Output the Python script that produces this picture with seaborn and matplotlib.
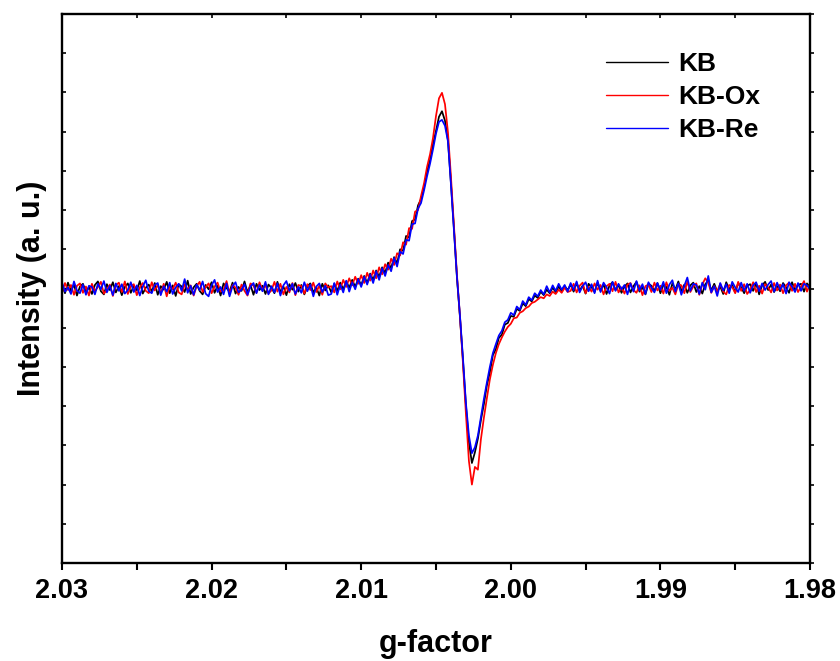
import numpy as np
import pandas as pd
import matplotlib
matplotlib.use("Agg")
import matplotlib.pyplot as plt
from matplotlib.ticker import MultipleLocator, FormatStrFormatter, NullFormatter
import seaborn as sns

# g-factor range of the sweep (uniform sampling, 251 points)
g_start, g_end = 2.03, 1.98

# Intensities (a.u.)
kb = [
    8, -12, 15, -6, 10, -18, 5, 12, -9, 3,
    -14, 9, 18, -7, -15, 11, -4, 16, -10, 6,
    -17, 4, 13, -11, 7, -5, 19, -13, 2, 10,
    -8, 14, -16, 6, -3, 17, -12, 8, -19, 11,
    5, -9, 20, -14, 3, 12, -6, -15, 9, -2,
    16, -11, 7, -18, 13, 1, -8, 15, -13, 4,
    -6, 18, -10, 9, -16, 12, -4, 7, -14, 10,
    2, -12, 17, -9, 5, -17, 11, -3, 14, -8,
    9, -15, 6, 13, -10, 3, -18, 12, -5, 8,
    -10, 12, -6, 15, -2, 18, 2, 22, 4, 25,
    8, 32, 14, 38, 22, 46, 30, 54, 40, 66,
    52, 80, 64, 100, 96, 134, 130, 172, 176, 212,
    228, 258, 298, 327, 368, 402, 438, 452, 428, 378,
    268, 152, 28, -72, -182, -298, -392, -445, -418, -383,
    -336, -295, -247, -214, -170, -155, -126, -118, -92, -88,
    -70, -72, -52, -57, -38, -45, -27, -33, -18, -24,
    -8, -17, -3, -12, 2, -9, 5, -7, 6, -4,
    10, -8, 14, -5, 7, -13, 12, 3, -9, 15,
    -6, 11, -14, 8, 16, -4, 9, -11, 5, 13,
    -10, 6, 17, -8, 3, -15, 12, 7, -6, 14,
    -12, 9, 4, -16, 13, -3, 18, -7, 10, -11,
    8, 15, -9, 6, -13, 11, 20, -5, 12, -8,
    5, -14, 16, -2, 9, -10, 14, 3, -12, 7,
    11, -6, 13, -15, 8, 17, -4, 10, -9, 6,
    -7, 14, 3, -11, 16, -5, 9, 12, -8, 13,
    4,
]

kb_ox = [
    -10, 14, -4, 9, -16, 7, 13, -11, 5, -18,
    12, -7, 4, 17, -13, -3, 10, -19, 8, 15,
    -9, 18, -14, 6, 11, -17, 3, 14, -6, -12,
    16, -5, 9, -13, 12, -20, 7, -2, 15, -10,
    -15, 11, -3, 8, -18, 6, 17, -9, 4, 13,
    -12, 5, 15, -8, -4, 19, -14, 9, 2, -16,
    10, -6, -18, 13, 7, -11, 16, -3, 8, -13,
    -5, 17, -8, 12, -15, 4, -10, 14, -17, 9,
    6, -13, 11, -4, 15, -9, 7, -16, 13, 3,
    6, -10, 18, -2, 22, 4, 26, 8, 30, 12,
    34, 14, 40, 20, 46, 26, 54, 36, 62, 48,
    76, 60, 90, 84, 118, 112, 154, 152, 196, 200,
    236, 268, 310, 342, 384, 440, 485, 499, 470, 398,
    285, 160, 35, -70, -190, -320, -440, -500, -455, -462,
    -385, -330, -280, -232, -195, -165, -142, -125, -110, -98,
    -90, -76, -74, -62, -58, -50, -46, -37, -34, -28,
    -22, -25, -15, -19, -8, -14, -3, -11, 2, -9,
    -6, 12, -10, 7, 15, -12, 4, -8, 13, -3,
    9, -15, 6, 12, -7, 17, -10, 3, -13, 10,
    14, -4, -11, 8, -17, 6, 10, -9, 15, -5,
    7, -13, 16, -6, 2, -15, 11, 8, -12, 18,
    -9, 5, 13, -16, 10, 26, 15, -11, 6, -7,
    12, -8, -15, 9, 4, -12, 17, -6, 11, -14,
    -3, 16, -9, 7, -13, 11, 3, -10, 14, -5,
    10, -12, 8, 15, -6, 12, -9, 5, 19, -8,
    12,
]

kb_re = [
    15, -8, 3, -14, 18, -5, -12, 10, -16, 7,
    4, -15, 12, -2, 19, -10, 7, -17, 13, -6,
    11, -13, -4, 16, -9, 8, -18, 5, 21, -7,
    -12, 9, 14, -17, 6, -8, 15, -14, 3, 12,
    -6, 24, -11, 7, -16, 10, -4, 18, -13, -20,
    8, 22, -9, 4, -15, 13, -20, 6, 16, -10,
    -3, 11, -16, 5, 14, -12, 9, -7, 17, -15,
    6, -10, 13, -18, 8, 19, -6, 12, -14, 4,
    -11, 16, -7, 10, -20, 5, 13, -9, 7, -17,
    -14, 14, -16, 10, -10, 20, -8, 16, -2, 24,
    4, 30, 10, 36, 14, 44, 22, 52, 32, 60,
    44, 78, 56, 94, 88, 124, 122, 164, 166, 204,
    218, 250, 286, 318, 355, 395, 425, 430, 415, 375,
    265, 148, 30, -68, -176, -292, -375, -420, -405, -375,
    -328, -282, -240, -200, -165, -142, -120, -108, -86, -80,
    -62, -68, -46, -54, -32, -42, -22, -30, -12, -20,
    -4, -15, 6, -10, 8, -6, 12, -3, 9, -8,
    14, -4, 18, -10, 6, 16, -7, 11, -12, 20,
    -9, 15, 3, -13, 17, -6, 12, -2, 9, -15,
    13, -8, 19, -5, 11, -14, 16, 2, -10, 14,
    -4, 17, -12, 10, 21, -8, 13, -16, 7, 28,
    -6, 12, 9, -14, 15, -3, 32, -10, 6, -19,
    14, -5, 11, -12, 17, 3, -9, 15, -6, 12,
    -11, 8, 16, -7, 13, -4, 10, 19, -8, 15,
    -3, 11, -13, 16, 5, -9, 14, -6, 12, 8,
    -2,
]

series_names = ["KB", "KB-Ox", "KB-Re"]
series_values = [kb, kb_ox, kb_re]
series_colors = ["#000000", "#ff0000", "#0000ff"]
x_tick_labels = ["2.03", "2.02", "2.01", "2.00", "1.99", "1.98"]

frames = []
for name, vals in zip(series_names, series_values):
    g = np.linspace(g_start, g_end, len(vals))
    frames.append(pd.DataFrame({"g": g, "I": vals, "sample": name}))
df = pd.concat(frames, ignore_index=True)

sns.set_theme(style="white")
plt.rcParams["font.family"] = ["Liberation Sans", "DejaVu Sans"]
plt.rcParams["font.weight"] = "bold"
plt.rcParams["text.color"] = "black"
plt.rcParams["axes.labelcolor"] = "black"
plt.rcParams["xtick.color"] = "black"
plt.rcParams["ytick.color"] = "black"

fig = plt.figure(figsize=(8.4, 6.61), dpi=100)
ax = fig.add_axes([62 / 840, 1 - 563 / 661, (810 - 62) / 840, (563 - 14) / 661])

sns.lineplot(data=df, x="g", y="I", hue="sample", hue_order=series_names,
             palette=dict(zip(series_names, series_colors)), estimator=None,
             sort=False, linewidth=1.25, ax=ax, legend=True)

ax.set_xlim(g_start, g_end)
ax.set_ylim(-700, 700)

ax.xaxis.set_major_locator(MultipleLocator(0.01))
ax.xaxis.set_minor_locator(MultipleLocator(0.005))
ax.xaxis.set_major_formatter(FormatStrFormatter("%.2f"))
ax.yaxis.set_major_locator(MultipleLocator(100))
ax.yaxis.set_major_formatter(NullFormatter())

ax.tick_params(axis="x", which="both", direction="out", length=5, width=1.5,
               bottom=True, top=False, labelsize=19.5, pad=6, colors="black")
ax.tick_params(axis="y", which="both", direction="in", length=3, width=1.2,
               left=True, right=False, labelleft=False, colors="black")
for lab in ax.get_xticklabels():
    lab.set_fontweight("bold")

# top ticks (inward) and right ticks (outward)
sec_top = ax.secondary_xaxis("top")
sec_top.xaxis.set_major_locator(MultipleLocator(0.005))
sec_top.tick_params(direction="in", length=3, width=1.2, labeltop=False, colors="black")
sec_top.spines["top"].set_visible(False)
sec_right = ax.secondary_yaxis("right")
sec_right.yaxis.set_major_locator(MultipleLocator(100))
sec_right.tick_params(direction="out", length=3, width=1.2, labelright=False, colors="black")
sec_right.spines["right"].set_visible(False)

for sp in ax.spines.values():
    sp.set_visible(True)
    sp.set_color("black")
    sp.set_linewidth(1.7)

ax.set_xlabel("g-factor", fontsize=22, fontweight="bold", labelpad=18, color="black")
ax.set_ylabel("Intensity (a. u.)", fontsize=22, fontweight="bold", labelpad=11, color="black")

handles, labels = ax.get_legend_handles_labels()
leg = ax.legend(handles, labels, loc="upper left",
                bbox_to_anchor=(606 / 840, 1 - 52 / 661), bbox_transform=fig.transFigure,
                frameon=False, borderpad=0, borderaxespad=0,
                handlelength=2.35, handletextpad=0.4, labelspacing=0.35,
                prop={"size": 19, "weight": "bold"})
for line in leg.get_lines():
    line.set_linewidth(1.0)
for t in leg.get_texts():
    t.set_color("black")

fig.savefig("out.png", dpi=100)
